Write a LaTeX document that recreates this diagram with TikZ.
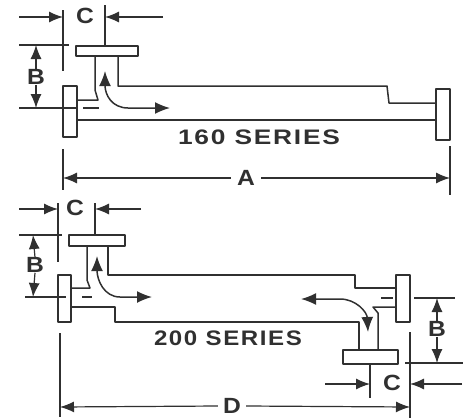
\documentclass[tikz,border=0pt]{standalone}
\usepackage{fontspec}
\setmainfont{Liberation Sans}
\newfontfamily\serieslabel[FakeStretch=1.2,LetterSpace=8]{Liberation Sans Bold}
\newfontfamily\dimlabel[FakeStretch=1.12]{Liberation Sans Bold}
\usetikzlibrary{arrows.meta}

\definecolor{ink}{HTML}{303030}
\tikzset{
  pipe/.style={draw=ink, line width=1.5pt, line join=round},
  dim/.style={draw=ink, line width=1.2pt},
  dimarrow/.style={dim, -{Latex[length=14pt,width=11pt]}},
  flow/.style={draw=ink, line width=1.5pt, {Latex[length=15pt,width=12pt]}-{Latex[length=15pt,width=12pt]}},
  letter/.style={inner sep=0pt, text=ink, font=\fontsize{22}{22}\dimlabel},
  series/.style={inner sep=0pt, text=ink, font=\fontsize{21}{21}\serieslabel},
}

\begin{document}
\begin{tikzpicture}[x=1pt,y=-1pt]
        \useasboundingbox (0,0) rectangle (463,418);

        % 160 series
        \draw[pipe] (63,86) rectangle (77,137);
        \draw[pipe] (436,89) rectangle (450,140);
        \draw[pipe] (76,46) rectangle (138,56);
        \draw[pipe] (77,100) -- (98,100) -- (95,90) -- (95,56);
        \draw[pipe] (118,56) -- (118,86) -- (387,86) -- (389,103) -- (436,103);
        \draw[pipe] (77,120) -- (436,120);
        \draw[pipe] (83,108) -- (99,108);
        \draw[flow] (105,71) .. controls (105,95) and (112,108) .. (128,108) -- (170,108);
        \node[series, xscale=1.045] (lbl160) at (259,137) {160 SERIES};

        \node[letter] (c1) at (85,16) {C};
        \node[letter] (b1) at (36,77) {B};
        \node[letter] (a1) at (246,178) {A};
        \draw[dim] (63,10) -- (63,71);
        \draw[dim] (105,5) -- (105,46);
        \draw[dimarrow] (19,17) -- (63,17);
        \draw[dimarrow] (163,17) -- (105,17);
        \draw[dim] (19,45) -- (69,45);
        \draw[dim] (19,108) -- (76,108);
        \draw[dimarrow] (b1.north) -- (36,45);
        \draw[dimarrow] (b1.south) -- (36,108);
        \draw[dim] (63,149) -- (63,190);
        \draw[dim] (450,146) -- (450,195);
        \draw[dimarrow] (a1.west) ++(-6,0) -- (63,178);
        \draw[dimarrow] (a1.east) ++(6,0) -- (450,178);

        % 200 series
        \draw[pipe] (58,275) rectangle (71,322);
        \draw[pipe] (396,275) rectangle (410,322);
        \draw[pipe] (69,235) rectangle (125,246);
        \draw[pipe] (343,350) rectangle (398,364);
        \draw[pipe] (71,288) -- (90,288) -- (87,280) -- (87,246);
        \draw[pipe] (108,246) -- (108,275) -- (355,275) -- (355,288) -- (396,288);
        \draw[pipe] (71,307) -- (115,307) -- (115,322) -- (359,322) -- (359,350);
        \draw[pipe] (396,307) -- (373,307) -- (378,313) -- (378,350);
        \draw[pipe] (82,297) -- (92,297);
        \draw[pipe] (381,298) -- (393,298);
        \draw[flow] (97,256) .. controls (97,280) and (104,297) .. (120,297) -- (152,297);
        \draw[flow] (368,332) .. controls (367,312) and (356,299) .. (340,299) -- (301,299);
        \node[series, xscale=0.955] (lbl200) at (228,338) {200 SERIES};

        \node[letter] (c2) at (75,208) {C};
        \node[letter] (b2) at (35,265) {B};
        \node[letter] (c3) at (392,383) {C};
        \node[letter] (b3) at (437,329) {B};
        \node[letter] (d1) at (232,406) {D};
        \draw[dim] (58,203) -- (58,262);
        \draw[dim] (95,203) -- (95,235);
        \draw[dimarrow] (19,209) -- (58,209);
        \draw[dimarrow] (141,209) -- (95,209);
        \draw[dim] (19,235) -- (62,235);
        \draw[dim] (25,297) -- (66,297);
        \draw[dimarrow] (b2.north) -- (33,235);
        \draw[dimarrow] (b2.south) -- (33,297);
        \draw[dim] (60,333) -- (60,417);
        \draw[dim] (410,332) -- (410,418);
        \draw[dimarrow] (d1.west) ++(-5,0) -- (60,407);
        \draw[dimarrow] (d1.east) ++(5,0) -- (410,407);
        \draw[dim] (414,298) -- (455,298);
        \draw[dim] (405,363) -- (463,363);
        \draw[dimarrow] (b3.north) -- (437,298);
        \draw[dimarrow] (b3.south) -- (437,363);
        \draw[dim] (370,364) -- (370,398);
        \draw[dimarrow] (325,384) -- (370,384);
        \draw[dimarrow] (462,384) -- (410,384);
      \end{tikzpicture}
\end{document}
